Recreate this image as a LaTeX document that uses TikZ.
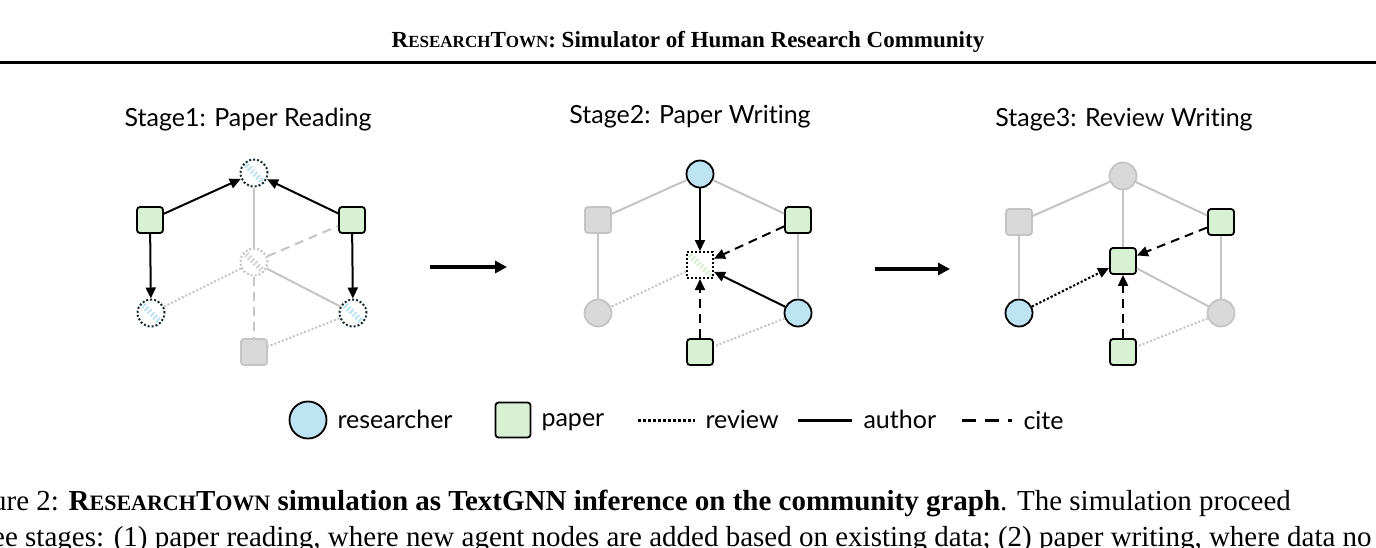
\documentclass[tikz,border=0pt]{standalone}
\usepackage{fontspec}
\setmainfont{Liberation Serif}
\newfontfamily\lab[Ligatures=NoCommon]{Lato}
\usetikzlibrary{arrows.meta}
\definecolor{rblue}{HTML}{BEE3F2}
\definecolor{pgreen}{HTML}{D8F1D2}
\definecolor{ngray}{HTML}{D9D9D9}
\definecolor{lgray}{HTML}{C4C4C4}
\definecolor{dborder}{HTML}{1A2A30}
\newcommand{\fsc}[2]{{\fontsize{#1}{#1}\selectfont #2}}
\tikzset{
 res/.style={circle,draw=black,line width=1.8pt,fill=rblue,minimum size=27pt,inner sep=0pt},
 pap/.style={rectangle,rounded corners=3pt,draw=black,line width=1.8pt,fill=pgreen,minimum size=26pt,inner sep=0pt},
 gres/.style={circle,draw=lgray,line width=1.8pt,fill=ngray,minimum size=27pt,inner sep=0pt},
 gpap/.style={rectangle,rounded corners=3pt,draw=lgray,line width=1.8pt,fill=ngray,minimum size=26pt,inner sep=0pt},
 newres/.style={circle,draw=dborder,dotted,line width=2pt,fill=white,minimum size=27pt,inner sep=0pt,
   path picture={\draw[rblue,line width=6pt] (path picture bounding box.north west) -- (path picture bounding box.south east);}},
 gnew/.style={circle,draw=lgray,dotted,line width=2pt,fill=white,minimum size=27pt,inner sep=0pt,
   path picture={\draw[ngray,line width=6pt] (path picture bounding box.north west) -- (path picture bounding box.south east);}},
 newpap/.style={rectangle,draw=black,dotted,line width=2pt,fill=white,minimum size=26pt,inner sep=0pt,
   path picture={\draw[pgreen,line width=6pt] (path picture bounding box.north west) -- (path picture bounding box.south east);}},
 gl/.style={lgray,line width=2pt},
 gdot/.style={lgray,line width=2pt,dotted},
 gdash/.style={lgray,line width=2pt,dash pattern=on 9pt off 6pt},
 auth/.style={black,line width=2pt,-{Triangle[length=11pt,width=10pt]}},
 citea/.style={black,line width=2pt,dash pattern=on 9pt off 6pt,-{Triangle[length=11pt,width=10pt]}},
 reva/.style={black,line width=2.2pt,dotted,-{Triangle[length=11pt,width=10pt]}},
 title/.style={font=\lab\fontsize{25}{29}\selectfont},
 leg/.style={font=\lab\fontsize{25}{29}\selectfont,anchor=base west},
}
\begin{document}
\begin{tikzpicture}[x=1pt,y=-1pt]
\useasboundingbox (0,0) rectangle (1376,547);
\clip (0,0) rectangle (1376,547);
% header
\node (hdr) at (688,42) {\fontsize{23}{26}\selectfont\bfseries R\fsc{17}{ESEARCH}T\fsc{17}{OWN}: Simulator of Human Research Community};
\draw[line width=3pt] (0,62) -- (1376,62);
% titles
\node[title] (t1) at (248,120) {Stage1: Paper Reading};
\node[title] (t2) at (690,117) {Stage2: Paper Writing};
\node[title] (t3) at (1124,120) {Stage3: Review Writing};
% stage 1
\node[gnew] (a0) at (254,262) {};
\node[gpap] (a6) at (254,352) {};
\node[newres] (a1) at (254,173) {};
\node[pap] (a2) at (150,220) {};
\node[pap] (a3) at (352,220) {};
\node[newres] (a4) at (151,313) {};
\node[newres] (a5) at (353,313) {};
\draw[gl] (a1) -- (a0);
\draw[gdash] (a0) -- (a3);
\draw[gdot] (a0) -- (a4);
\draw[gl] (a0) -- (a5);
\draw[gdash] (a0) -- (a6);
\draw[gdot] (a5) -- (a6);
\draw[auth] (a2) -- (a1);
\draw[auth] (a3) -- (a1);
\draw[auth] (a2) -- (a4);
\draw[auth] (a3) -- (a5);
% stage arrows
\coordinate (s1e) at (430,267); \coordinate (s2s) at (507,267);
\draw[line width=3.5pt,-{Triangle[length=12pt,width=12pt]}] (s1e) -- (s2s);
\coordinate (s2e) at (875,269); \coordinate (s3s) at (950,269);
\draw[line width=3.5pt,-{Triangle[length=12pt,width=12pt]}] (s2e) -- (s3s);
% stage 2
\node[res] (b1) at (700,174) {};
\node[gpap] (b2) at (598,220) {};
\node[pap] (b3) at (798,220) {};
\node[newpap] (b0) at (700,265) {};
\node[gres] (b4) at (598,313) {};
\node[res] (b5) at (798,313) {};
\node[pap] (b6) at (700,352) {};
\draw[gl] (b1) -- (b2);
\draw[gl] (b1) -- (b3);
\draw[gl] (b2) -- (b4);
\draw[gl] (b3) -- (b5);
\draw[gdot] (b0) -- (b4);
\draw[gdot] (b5) -- (b6);
\draw[auth] (b1) -- (b0);
\draw[citea] (b3) -- (b0);
\draw[auth] (b5) -- (b0);
\draw[citea] (b6) -- (b0);
% stage 3
\node[gres] (c1) at (1123,176) {};
\node[gpap] (c2) at (1019,222) {};
\node[pap] (c3) at (1221,222) {};
\node[pap] (c0) at (1123,261) {};
\node[res] (c4) at (1019,313) {};
\node[gres] (c5) at (1221,313) {};
\node[pap] (c6) at (1123,352) {};
\draw[gl] (c1) -- (c2);
\draw[gl] (c1) -- (c3);
\draw[gl] (c1) -- (c0);
\draw[gl] (c2) -- (c4);
\draw[gl] (c3) -- (c5);
\draw[gl] (c0) -- (c5);
\draw[gdot] (c5) -- (c6);
\draw[reva] (c4) -- (c0);
\draw[citea] (c3) -- (c0);
\draw[citea] (c6) -- (c0);
% legend
\node[res,minimum size=37pt] (lr) at (308,420) {};
\node[leg] (lrt) at (334,428) {researcher};
\node[pap,minimum size=35pt] (lp) at (513,420) {};
\node[leg] (lpt) at (538,426) {paper};
\coordinate (ld1) at (638,420); \coordinate (ld2) at (695,420);
\draw[line width=3pt,dotted] (ld1) -- (ld2);
\node[leg] (lvt) at (702,428) {review};
\coordinate (ls1) at (798,420); \coordinate (ls2) at (852,420);
\draw[line width=3pt] (ls1) -- (ls2);
\node[leg] (lat) at (860,428) {author};
\coordinate (lc1) at (962,420); \coordinate (lc2) at (1012,420);
\draw[line width=3pt,dash pattern=on 14pt off 9pt] (lc1) -- (lc2);
\node[leg] (lct) at (1020,429) {cite};
% caption
\node[anchor=west,inner sep=0pt] (cap1) at (-8,503) {\fontsize{29}{32}\selectfont ure 2: \textbf{R\fsc{22}{ESEARCH}T\fsc{22}{OWN} simulation as TextGNN inference on the community graph}. The simulation proceed};
\node[anchor=west,inner sep=0pt] (cap2) at (-8,540) {\fontsize{29}{32}\selectfont ee stages: (1) paper reading, where new agent nodes are added based on existing data; (2) paper writing, where data no};
\end{tikzpicture}
\end{document}
